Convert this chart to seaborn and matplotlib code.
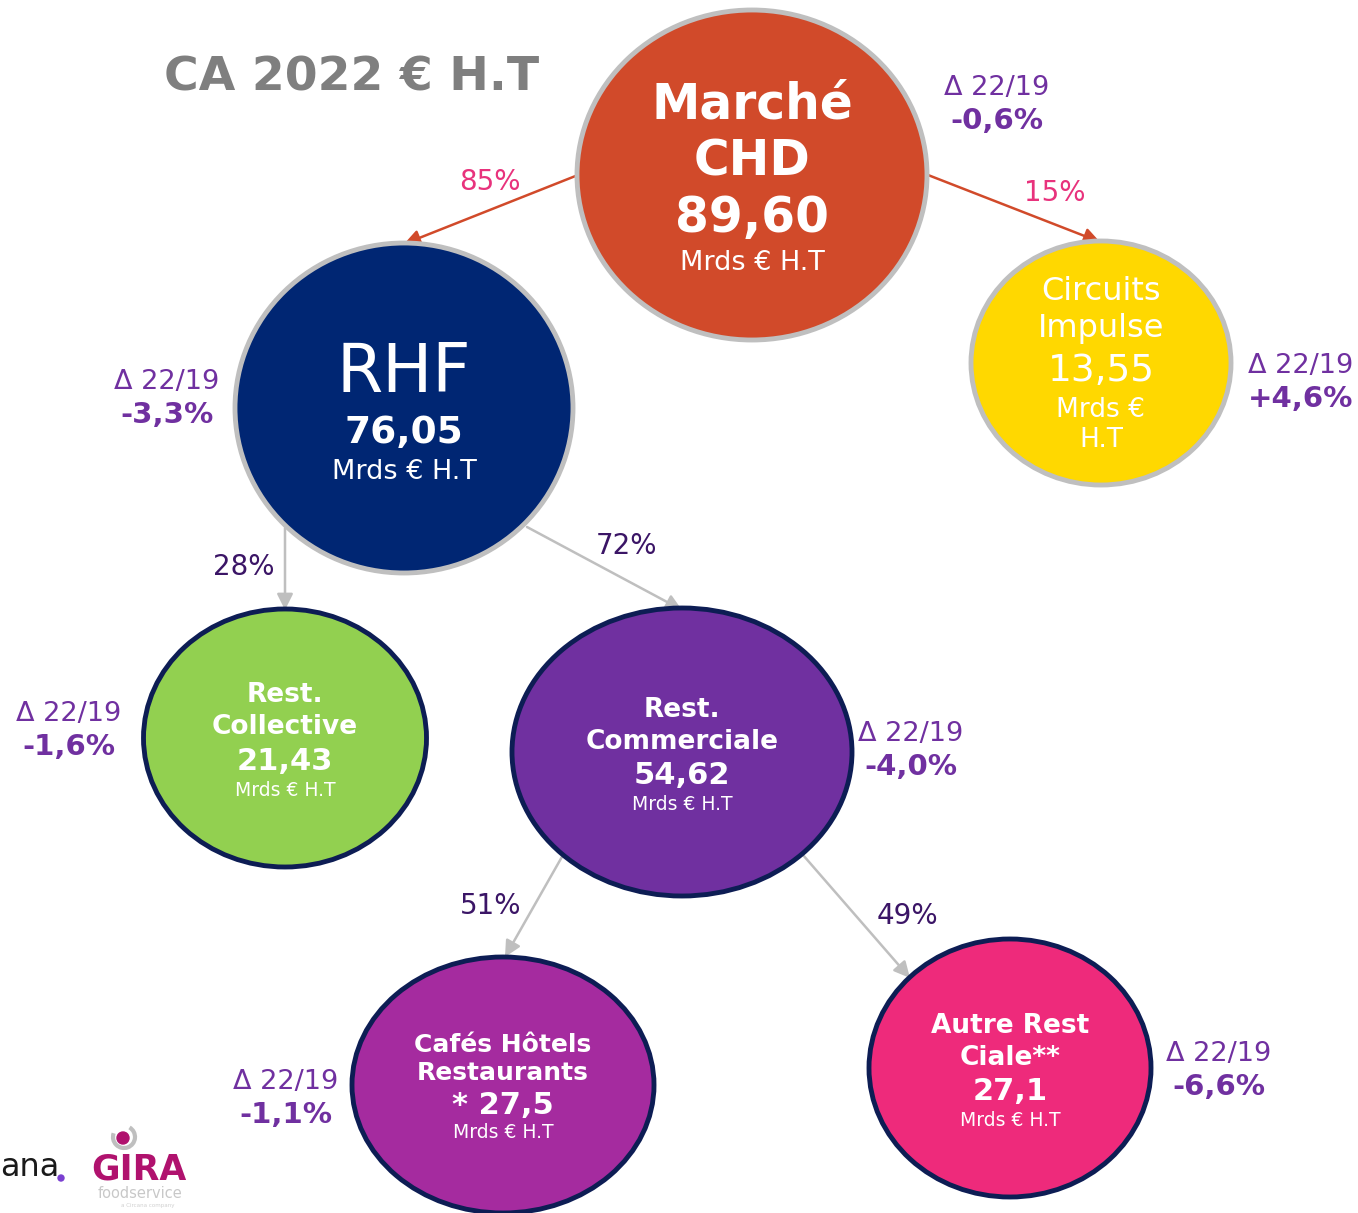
import numpy as np
import matplotlib
matplotlib.use("Agg")
import matplotlib.pyplot as plt
from matplotlib.patches import Ellipse, Arc, Circle
import seaborn as sns

# data
titles = ["Marché\nCHD", "RHF", "Circuits\nImpulse", "Rest.\nCollective",
          "Rest.\nCommerciale", "Cafés Hôtels\nRestaurants", "Autre Rest\nCiale**"]
values = ["89,60", "76,05", "13,55", "21,43", "54,62", "* 27,5", "27,1"]
units = ["Mrds € H.T", "Mrds € H.T", "Mrds €\nH.T", "Mrds € H.T",
         "Mrds € H.T", "Mrds € H.T", "Mrds € H.T"]
deltas = ["-0,6%", "-3,3%", "+4,6%", "-1,6%", "-4,0%", "-1,1%", "-6,6%"]
links = [(0, 1), (0, 2), (1, 3), (1, 4), (4, 5), (4, 6)]
shares = ["85%", "15%", "28%", "72%", "51%", "49%"]

sns.set_style("white")
plt.rcParams["font.family"] = ["DejaVu Sans"]

fig = plt.figure(figsize=(13.58, 12.13), dpi=100)
ax = fig.add_axes([0, 0, 1, 1])
ax.set_xlim(0, 1358)
ax.set_ylim(1213, 0)
ax.axis("off")

# node layout: center, width, height, fill, edge
nodes = [
    dict(c=(752, 175), w=350, h=330, fc="#D14A2A", ec="#BFBFBF"),
    dict(c=(404, 408), w=338, h=330, fc="#002673", ec="#BFBFBF"),
    dict(c=(1101, 363), w=260, h=244, fc="#FFD800", ec="#BFBFBF"),
    dict(c=(285, 738), w=283, h=258, fc="#92D050", ec="#0D1D54"),
    dict(c=(682, 752), w=340, h=288, fc="#7030A0", ec="#0D1D54"),
    dict(c=(503, 1085), w=302, h=256, fc="#A52B9F", ec="#0D1D54"),
    dict(c=(1010, 1068), w=282, h=258, fc="#EE2A7B", ec="#0D1D54"),
]

# text layout per node: (title y, title size, title weight, value y, value size, value weight, unit y, unit size)
text_lay = [
    (133, 35, "bold", 218, 35, "bold", 263, 19.5),
    (373, 48, "normal", 433, 27, "bold", 472, 19.5),
    (310, 23, "normal", 371, 27, "normal", 425, 19),
    (711, 19, "bold", 761, 22, "bold", 790, 13.5),
    (726, 19, "bold", 776, 22, "bold", 805, 13.5),
    (1059, 18, "bold", 1105, 22, "bold", 1132, 13.5),
    (1042, 19, "bold", 1091, 22, "bold", 1121, 13.5),
]
line_sp = [1.25, 1.0, 1.22, 1.31, 1.28, 1.18, 1.27]

delta_pos = [(997, 88), (167, 382), (1301, 366), (69, 714), (911, 734), (286, 1082), (1219, 1054)]

link_lay = [
    dict(a=(578, 175), b=(404, 244), col="#D14A2A", lab=(490, 182), lc="#E8327C"),
    dict(a=(928, 175), b=(1100, 242), col="#D14A2A", lab=(1055, 193), lc="#E8327C"),
    dict(a=(285, 528), b=(285, 610), col="#BFBFBF", lab=(244, 567), lc="#3B1566"),
    dict(a=(527, 527), b=(682, 610), col="#BFBFBF", lab=(627, 546), lc="#3B1566"),
    dict(a=(563, 855), b=(505, 957), col="#BFBFBF", lab=(491, 906), lc="#3B1566"),
    dict(a=(803, 855), b=(910, 978), col="#BFBFBF", lab=(907, 916), lc="#3B1566"),
]

# links
for (i, j), share, lay in zip(links, shares, link_lay):
    ax.annotate("", xy=lay["b"], xytext=lay["a"],
                arrowprops=dict(arrowstyle="-|>", color=lay["col"], lw=1.8,
                                mutation_scale=24, shrinkA=0, shrinkB=0), zorder=1)
    ax.text(*lay["lab"], share, color=lay["lc"], fontsize=20, ha="center", va="center")

# nodes
for k, nd in enumerate(nodes):
    ax.add_patch(Ellipse(nd["c"], nd["w"], nd["h"], facecolor=nd["fc"],
                         edgecolor=nd["ec"], lw=3.5, zorder=2))
    ty, ts, tw, vy, vs, vw, uy, us = text_lay[k]
    cx = nd["c"][0]
    ax.text(cx, ty, titles[k], color="white", fontsize=ts, fontweight=tw,
            ha="center", va="center", linespacing=line_sp[k], zorder=3)
    ax.text(cx, vy, values[k], color="white", fontsize=vs, fontweight=vw,
            ha="center", va="center", zorder=3)
    ax.text(cx, uy, units[k], color="white", fontsize=us,
            ha="center", va="center", linespacing=1.2, zorder=3)

# deltas
for d, (x, y) in zip(deltas, delta_pos):
    ax.text(x, y, "Δ 22/19", color="#7030A0", fontsize=19.5, ha="center", va="center")
    ax.text(x, y + 33, d, color="#7030A0", fontsize=21, fontweight="bold",
            ha="center", va="center")

# title
ax.text(352, 78, "CA 2022 € H.T", color="#7F7F7F", fontsize=34, fontweight="bold",
        ha="center", va="center")

# logos
ax.text(0, 1168, "ana", color="#1A1A1A", fontsize=23, ha="left", va="center")
ax.add_patch(Circle((61, 1178), 3, color="#7A3FD1", zorder=3))
ax.text(139, 1170, "GIRA", color="#B0126E", fontsize=25, fontweight="bold",
        ha="center", va="center")
ax.add_patch(Circle((123, 1138), 6, color="#B0126E", zorder=3))
ax.add_patch(Arc((124, 1137), 22, 22, theta1=-60, theta2=200, color="#BFBFBF", lw=3))
ax.text(140, 1193, "foodservice", color="#C8C8C8", fontsize=10.5, ha="center", va="center")
ax.text(148, 1206, "a Circana company", color="#D0D0D0", fontsize=4, ha="center", va="center")

fig.savefig("out.png", dpi=100)
